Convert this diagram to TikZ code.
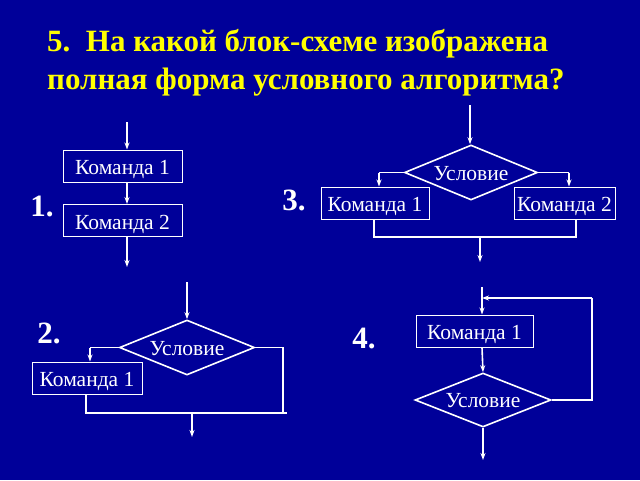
\documentclass[tikz,border=0pt]{standalone}
\usepackage{fontspec}
\setmainfont{Liberation Serif}
\usetikzlibrary{shapes.geometric,arrows.meta}
\definecolor{bg}{RGB}{0,0,153}
\definecolor{ttl}{RGB}{255,255,0}
\tikzset{
  cmdbox/.style={draw=white,line width=1pt,text=white,inner sep=0pt,minimum height=32pt,text height=17.6pt,text depth=0pt,font=\fontsize{21.5}{24}\selectfont},
  cond/.style={diamond,draw=white,line width=1.6pt,text=white,inner sep=0pt,aspect=2.4,text height=15pt,text depth=0pt,font=\fontsize{21.5}{24}\selectfont},
  ln/.style={draw=white,line width=1.6pt},
  arr/.style={ln,-{Stealth[length=7pt,width=5pt]}},
  num/.style={text=white,font=\bfseries\fontsize{31}{33}\selectfont,inner sep=0pt},
  title/.style={text=ttl,font=\bfseries\fontsize{31}{37}\selectfont,anchor=base west,inner sep=0pt}
}
\begin{document}
\begin{tikzpicture}[x=1pt,y=-1pt]
\fill[bg] (0,0) rectangle (640,480);
\useasboundingbox (0,0) rectangle (640,480);
\node[title] (ttl1) at (47,51) {5.\ \ На какой блок-схеме изображена};
\node[title] (ttl2) at (47,89) {полная форма условного алгоритма?};
% diagram 1
\coordinate (t1) at (127,122);
\node[cmdbox,minimum width=119pt] (k11) at (122.5,166) {Команда 1};
\node[cmdbox,minimum width=119pt] (k12) at (122.5,220.5) {Команда 2};
\coordinate (b1) at (127,267);
\draw[arr] (t1) -- (t1 |- k11.north);
\draw[arr] (t1 |- k11.south) -- (t1 |- k12.north);
\draw[arr] (t1 |- k12.south) -- (b1);
\node[num] (n1) at (42,206) {1.};
% diagram 3
\coordinate (t3) at (470,105);
\node[cond,minimum width=133pt,minimum height=55pt] (d3) at (471,172.5) {Условие};
\node[cmdbox,minimum width=108pt] (k31) at (375,203) {Команда 1};
\node[cmdbox,minimum width=101pt] (k32) at (564.5,203) {Команда 2};
\coordinate (l3) at (379,172.5);
\coordinate (r3) at (569,172.5);
\coordinate (bl3) at (374,237);
\coordinate (br3) at (576,237);
\coordinate (m3) at (480,237);
\coordinate (e3) at (480,262);
\draw[arr] (t3) -- (t3 |- d3.north);
\draw[ln] (d3.west) -- (l3);
\draw[arr] (l3) -- (l3 |- k31.north);
\draw[ln] (d3.east) -- (r3);
\draw[arr] (r3) -- (r3 |- k32.north);
\draw[ln] (bl3 |- k31.south) -- (bl3) -- (br3) -- (br3 |- k32.south);
\draw[arr] (m3) -- (e3);
\node[num] (n3) at (294,200) {3.};
% diagram 2
\coordinate (t2) at (187,282);
\node[cond,minimum width=135pt,minimum height=55pt] (d2) at (187,347.5) {Условие};
\node[cmdbox,minimum width=110pt] (k21) at (87,378) {Команда 1};
\coordinate (l2) at (90,347.5);
\coordinate (r2) at (283,347.5);
\coordinate (br2) at (283,413);
\coordinate (bl2) at (86,413);
\coordinate (be2) at (287,413);
\coordinate (m2) at (192,413);
\coordinate (e2) at (192,437);
\draw[arr] (t2) -- (d2.north);
\draw[ln] (d2.west) -- (l2);
\draw[arr] (l2) -- (l2 |- k21.north);
\draw[ln] (d2.east) -- (r2) -- (br2);
\draw[ln] (bl2 |- k21.south) -- (bl2) -- (be2);
\draw[arr] (m2) -- (e2);
\node[num] (n2) at (49,333) {2.};
% diagram 4
\coordinate (t4) at (482,287);
\node[cmdbox,minimum width=117pt] (k4) at (474.5,331) {Команда 1};
\node[cond,minimum width=136pt,minimum height=54pt] (d4) at (483,400) {Условие};
\coordinate (r4) at (592,400);
\coordinate (u4) at (592,298);
\coordinate (j4) at (482,298);
\coordinate (e4) at (483,460);
\draw[arr] (t4) -- (t4 |- k4.north);
\draw[arr] (t4 |- k4.south) -- (d4.north);
\draw[ln] (d4.east) -- (r4) -- (u4);
\draw[arr] (u4) -- (j4);
\draw[arr] (d4.south) -- (e4);
\node[num] (n4) at (364,339) {4.};
\end{tikzpicture}
\end{document}
